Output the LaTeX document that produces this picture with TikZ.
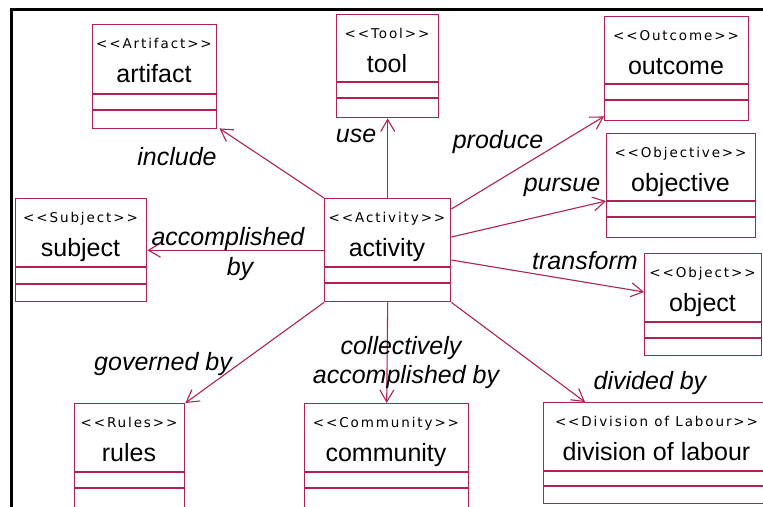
\documentclass[tikz,border=0pt]{standalone}
\usepackage{fontspec}
\setmainfont{Liberation Sans}
\newfontfamily\stereofont[LetterSpace=14]{DejaVu Sans}
\usetikzlibrary{arrows.meta}
\definecolor{umlred}{RGB}{178,34,80}
\tikzset{
 box/.style={draw=umlred, line width=1.4pt, fill=white, inner sep=0pt, anchor=north west},
 sepline/.style={draw=umlred, line width=1.4pt},
 stereo/.style={font=\stereofont\fontsize{13.5}{14}\selectfont, anchor=base, inner sep=0pt},
 cname/.style={font=\fontsize{25}{26}\selectfont, anchor=base, inner sep=0pt},
 lab/.style={font=\itshape\fontsize{25}{26}\selectfont, anchor=base, inner sep=0pt},
 conn/.style={draw=umlred, line width=1.1pt, -{Straight Barb[length=12pt,width=14pt]}},
 frame/.style={draw=black, line width=2.6pt},
}
% #1 name, #2 x1, #3 y1, #4 x2, #5 y2, #6 sep1, #7 sep2, #8 stereotype, #9 class name
\newcommand\umlbox[9]{%
 \node[box, minimum width={#4-#2}, minimum height={#5-#3}] (#1) at (#2,#3) {};
 \draw[sepline] (#2,#6) -- (#4,#6) (#2,#7) -- (#4,#7);
 \node[stereo] (#1-s) at ({(#2+#4)/2},{#3+24}) {#8};
 \node[cname] (#1-n) at ({(#2+#4)/2},{#3+58}) {#9};
}
\begin{document}
\begin{tikzpicture}[x=1pt,y=-1pt]
\clip (0,0) rectangle (763,506);
\fill[white] (0,0) rectangle (763,506);
\draw[frame] (11.3,510) -- (11.3,9.5) -- (766,9.5);

\umlbox{artifact}{92}{24}{216}{128}{94}{110}{<<Artifact>>}{artifact}
\umlbox{tool}{336}{14}{438}{117}{82}{98}{<<Tool>>}{tool}
\umlbox{outcome}{604}{16}{748}{120}{84}{100}{<<Outcome>>}{outcome}
\umlbox{objective}{606}{133}{755}{237}{201}{217}{<<Objective>>}{objective}
\umlbox{subject}{15}{198}{146}{301}{267}{284}{<<Subject>>}{subject}
\umlbox{act}{324}{198}{450}{301}{267}{283}{<<Activity>>}{activity}
\umlbox{object}{644}{253}{761}{355}{322}{338}{<<Object>>}{object}
\umlbox{rules}{74}{403}{184}{520}{472}{488}{<<Rules>>}{rules}
\umlbox{community}{304}{403}{468}{520}{472}{488}{<<Community>>}{community}
\umlbox{division}{543}{402}{770}{503}{471}{486}{<<Division of Labour>>}{division of labour}

\draw[conn] (act.north west) -- ([xshift=2pt,yshift=1pt]artifact.south east);
\draw[conn] (act.north) -- (tool.south);
\draw[conn] ([yshift=-11pt]act.north east) -- ([yshift=5pt]outcome.south west);
\draw[conn] ([yshift=-39pt]act.north east) -- ([yshift=-68pt]objective.north west);
\draw[conn] ([yshift=-62pt]act.north east) -- ([yshift=-39pt]object.north west);
\draw[conn] (act.west) -- (subject.east);
\draw[conn] (act.south west) -- (rules.north east);
\draw[conn] (act.south) -- (community.north);
\draw[conn] (act.south east) -- ([xshift=42pt]division.north west);

\node[lab] (l-include) at (177,165) {include};
\node[lab] (l-use) at (356,142) {use};
\node[lab] (l-produce) at (498,148) {produce};
\node[lab] (l-pursue) at (562,191) {pursue};
\node[lab] (l-transform) at (585,269) {transform};
\node[lab] (l-acc1) at (228,245) {accomplished};
\node[lab] (l-acc2) at (240,275) {by};
\node[lab] (l-gov) at (163,370) {governed by};
\node[lab] (l-coll1) at (401,354) {collectively};
\node[lab] (l-coll2) at (406,383) {accomplished by};
\node[lab] (l-div) at (650,389) {divided by};
\end{tikzpicture}
\end{document}
